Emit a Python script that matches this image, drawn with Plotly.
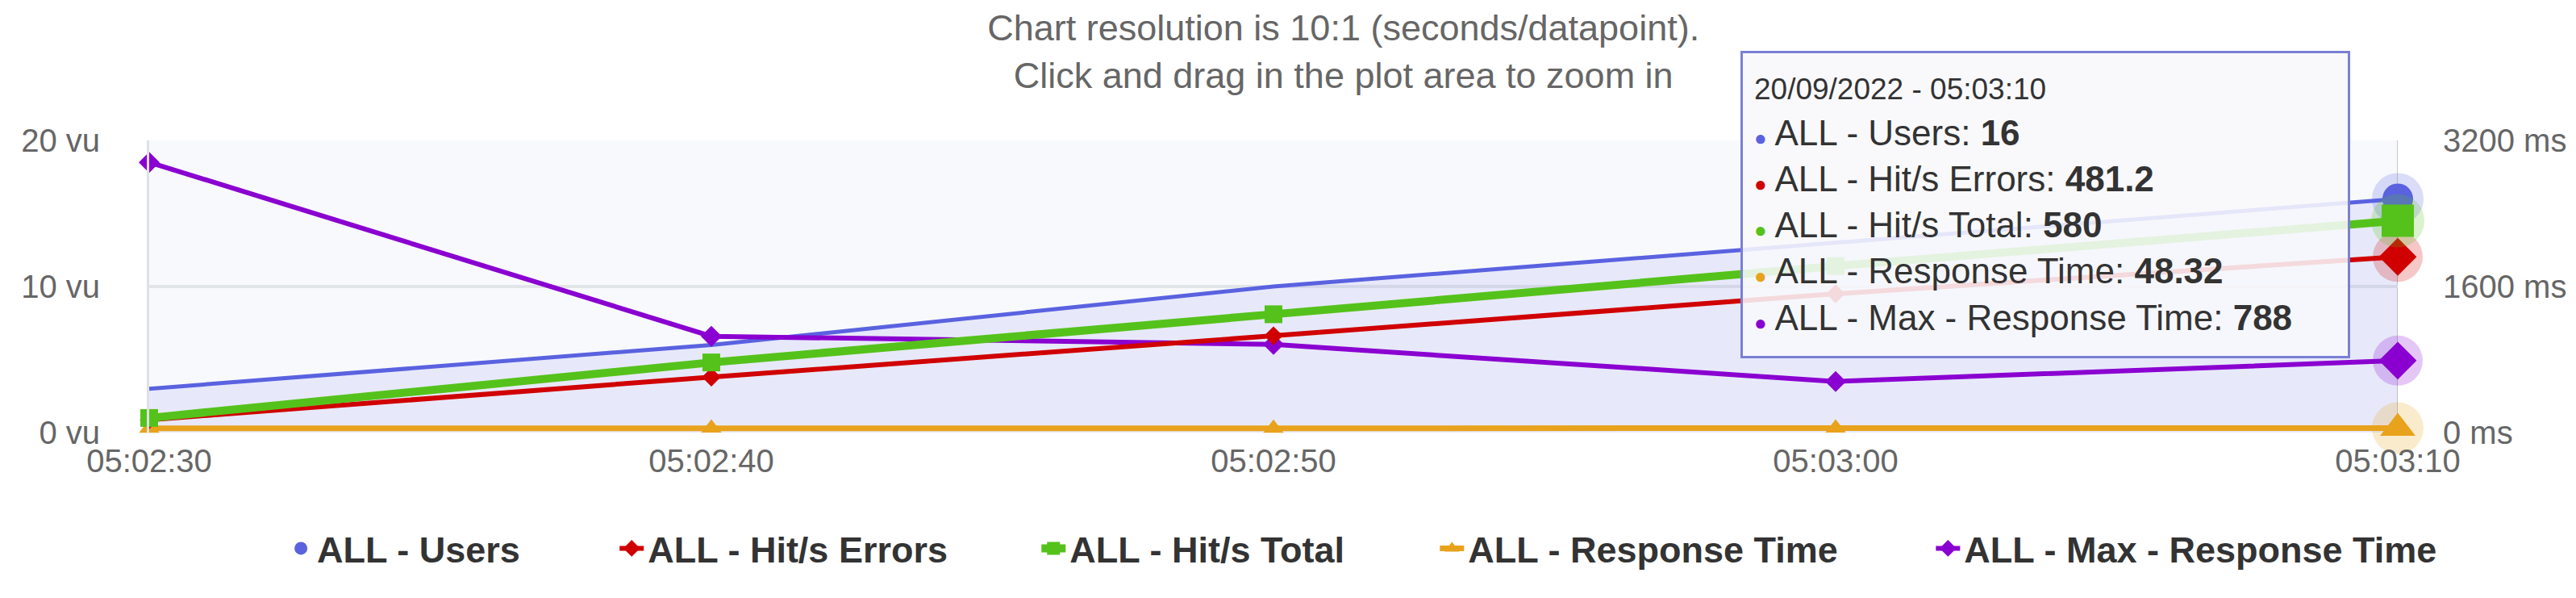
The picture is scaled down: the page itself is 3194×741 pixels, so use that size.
import plotly.graph_objects as go

# data (10 s per datapoint)
times = ["2022-09-20 05:02:30", "2022-09-20 05:02:40", "2022-09-20 05:02:50",
         "2022-09-20 05:03:00", "2022-09-20 05:03:10"]
users = [3, 6, 10, 13, 16]
hits_errors = [35, 152, 265, 380, 481.2]
hits_total = [40, 192, 324, 456, 580]
response_time = [46, 48, 47, 49, 48.32]
max_response_time = [2960, 1055, 965, 560, 788]

names = ["ALL - Users", "ALL - Hit/s Errors", "ALL - Hit/s Total",
         "ALL - Response Time", "ALL - Max - Response Time"]
colors = ["#5A62E0", "#D00000", "#55C21B", "#E8A21C", "#8A00D0"]
symbols = ["circle", "diamond", "square", "triangle-up", "diamond"]
axes = ["y", "y3", "y3", "y2", "y2"]
series = [users, hits_errors, hits_total, response_time, max_response_time]
widths = [5, 6, 10, 7, 6]
msizes = [0, 18, 22, 22, 20]
end_sizes = [38, 36, 40, 38, 36]
legend_ids = ["legend", "legend2", "legend3", "legend4", "legend5"]
legend_x = [0.0603, 0.2074, 0.3950, 0.5722, 0.7928]

FONT = "Liberation Sans, Arial, sans-serif"

fig = go.Figure()

# users: area, legend shows only the circle
fig.add_trace(go.Scatter(x=[None], y=[None], mode="markers", name=names[0],
                         legend=legend_ids[0],
                         marker=dict(symbol="circle", size=30, color=colors[0])))
fig.add_trace(go.Scatter(x=times, y=users, mode="lines", yaxis="y", showlegend=False,
                         line=dict(color=colors[0], width=widths[0]),
                         fill="tozeroy", fillcolor="rgba(90,98,224,0.10)",
                         cliponaxis=False))

for i in range(1, 5):
    fig.add_trace(go.Scatter(x=times, y=series[i], mode="lines+markers", name=names[i],
                             yaxis=axes[i], cliponaxis=False, legend=legend_ids[i],
                             line=dict(color=colors[i], width=widths[i]),
                             marker=dict(symbol=symbols[i], size=msizes[i], color=colors[i])))

# hover state on the last point: halo + enlarged marker
for i in range(5):
    fig.add_trace(go.Scatter(x=[times[-1]], y=[series[i][-1]], mode="markers",
                             yaxis=axes[i], showlegend=False, cliponaxis=False,
                             marker=dict(symbol="circle", size=end_sizes[i] + 26,
                                         color=colors[i], opacity=0.22)))
    fig.add_trace(go.Scatter(x=[times[-1]], y=[series[i][-1]], mode="markers",
                             yaxis=axes[i], showlegend=False, cliponaxis=False,
                             marker=dict(symbol=symbols[i], size=end_sizes[i],
                                         color=colors[i])))

# crosshair
fig.add_shape(type="line", x0=times[-1], x1=times[-1], yref="paper", y0=0, y1=1,
              line=dict(color="#c8c8c8", width=2), layer="below")

# tooltip
lines = ["<span style='font-size:37px'>20/09/2022 - 05:03:10</span>"]
for i in range(5):
    lines.append("<span style='color:%s;font-size:26px'>●</span> %s: <b>%s</b>"
                 % (colors[i], names[i], f"{series[i][-1]:g}"))
fig.add_annotation(xref="paper", yref="paper", x=0.7077, y=1.3066,
                   xanchor="left", yanchor="top", text="<br>".join(lines),
                   align="left", valign="middle", showarrow=False,
                   width=722, height=347, borderpad=14,
                   bgcolor="rgba(248,248,252,0.88)", bordercolor="#7a80d4", borderwidth=3,
                   font=dict(family=FONT, size=44, color="#333333"))

legend_style = dict(orientation="h", xanchor="left", y=-0.397, yanchor="middle",
                    font=dict(size=45, color="#333333", family=FONT, weight="bold"),
                    itemsizing="trace", bgcolor="rgba(0,0,0,0)")

fig.update_layout(
    width=3194, height=741,
    margin=dict(l=177, r=229, t=166, b=213),
    paper_bgcolor="white", plot_bgcolor="#f8f9fd",
    font=dict(family=FONT, color="#666666"),
    title=dict(text="Chart resolution is 10:1 (seconds/datapoint).<br>Click and drag in the plot area to zoom in",
               x=0.519, xanchor="center", y=0.943, yanchor="top",
               font=dict(size=45, color="#666666")),
    showlegend=True,
    xaxis=dict(type="date", range=[times[0], times[-1]], tickformat="%H:%M:%S",
               dtick=10000, showgrid=False, zeroline=False, ticks="",
               ticklabelstandoff=8, tickfont=dict(size=40, color="#666666")),
    yaxis=dict(range=[0, 20], dtick=10, ticksuffix=" vu", showgrid=True,
               gridcolor="#e2e5e8", gridwidth=4, zeroline=False,
               showline=True, linecolor="#dde1e4", linewidth=3,
               ticklabelstandoff=50, tickfont=dict(size=40, color="#666666")),
    yaxis2=dict(range=[0, 3200], dtick=1600, ticksuffix=" ms", overlaying="y",
                side="right", showgrid=False, zeroline=False,
                ticklabelstandoff=55, tickfont=dict(size=40, color="#666666")),
    yaxis3=dict(range=[0, 800], overlaying="y", visible=False),
)
for lid, lx in zip(legend_ids, legend_x):
    fig.update_layout({lid: dict(legend_style, x=lx)})

fig.write_html("out.html")
